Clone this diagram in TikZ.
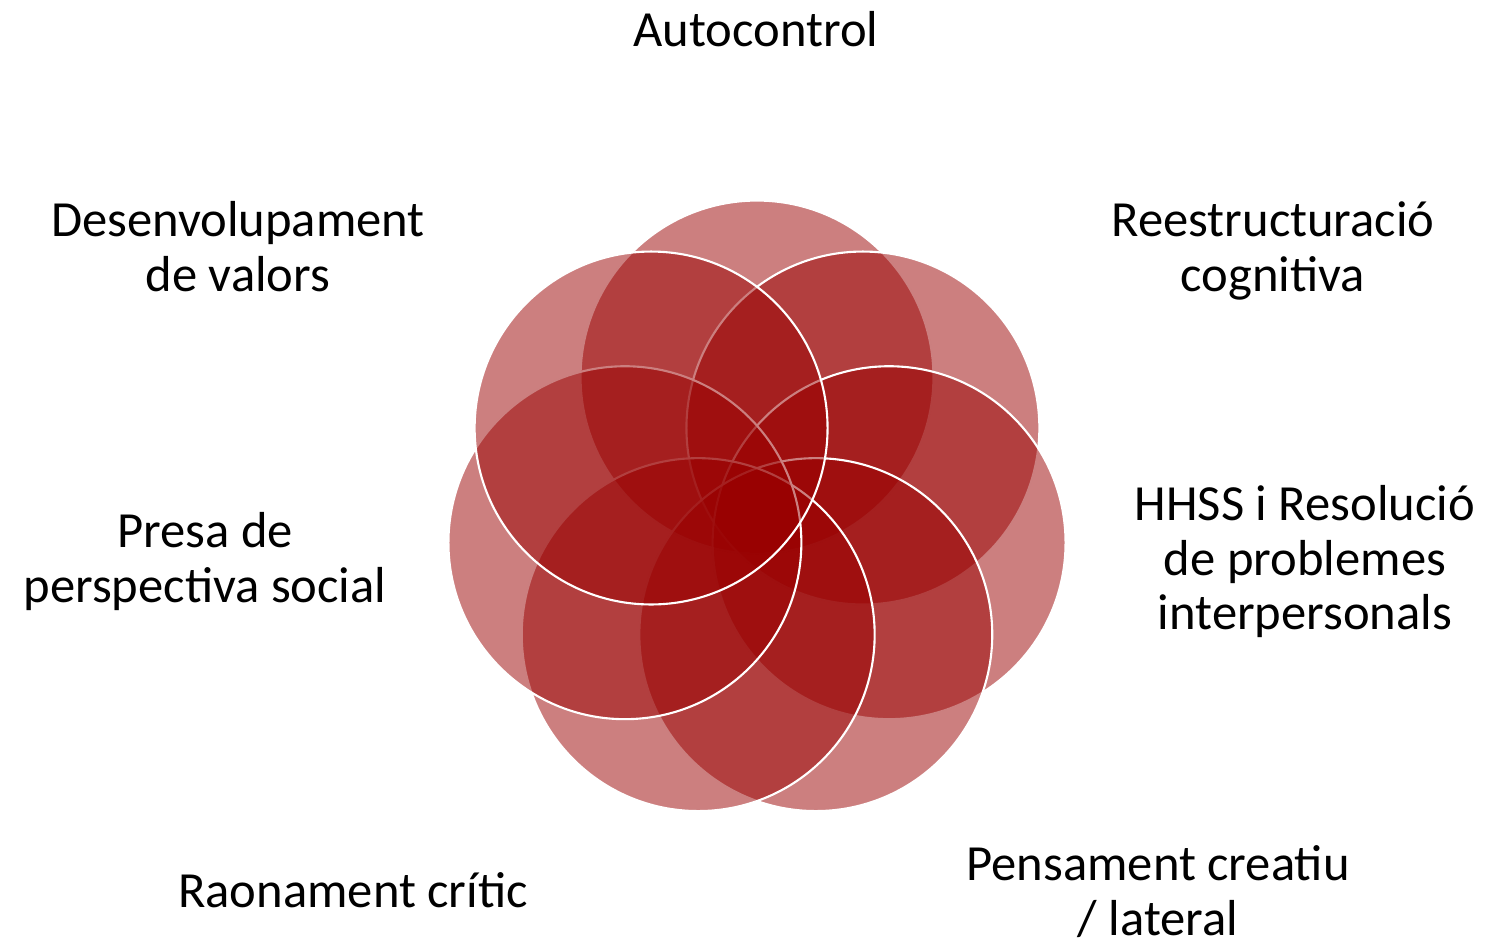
\documentclass[tikz,border=0pt]{standalone}
\usepackage{fontspec}
\setmainfont{Carlito}
\definecolor{petalred}{RGB}{153,0,0}
\begin{document}
\begin{tikzpicture}[x=0.02cm, y=-0.02cm,
  petal/.style={circle, minimum size=7.06cm, inner sep=0pt, fill=petalred, fill opacity=0.5, draw=white, line width=1.2pt},
  lbl/.style={font=\fontsize{28.8}{31.2}\selectfont, align=center, inner sep=0pt, anchor=north, yshift=21.84pt}]
\useasboundingbox (0,0) rectangle (1499,941);
% petals, drawn clockwise from the top
\node[petal] (c1) at (757.0,377.0) {};
\node[petal] (c2) at (862.9,428.0) {};
\node[petal] (c3) at (889.1,542.7) {};
\node[petal] (c4) at (815.8,634.6) {};
\node[petal] (c5) at (698.2,634.6) {};
\node[petal] (c6) at (624.9,542.7) {};
\node[petal] (c7) at (651.1,428.0) {};
% labels
\node[lbl] (t1) at (756,46) {\strut Autocontrol};
\node[lbl] (t2) at (1273,236) {\strut Reestructuració\\\strut cognitiva};
\node[lbl] (t3) at (1305,520) {\strut HHSS i Resolució\\\strut de problemes\\\strut interpersonals};
\node[lbl] (t4) at (1158,880) {\strut Pensament creatiu\\\strut / lateral};
\node[lbl] (t5) at (353,907) {\strut Raonament crític};
\node[lbl] (t6) at (205,547) {\strut Presa de\\\strut perspectiva social};
\node[lbl] (t7) at (238,236) {\strut Desenvolupament\\\strut de valors};
\end{tikzpicture}
\end{document}
